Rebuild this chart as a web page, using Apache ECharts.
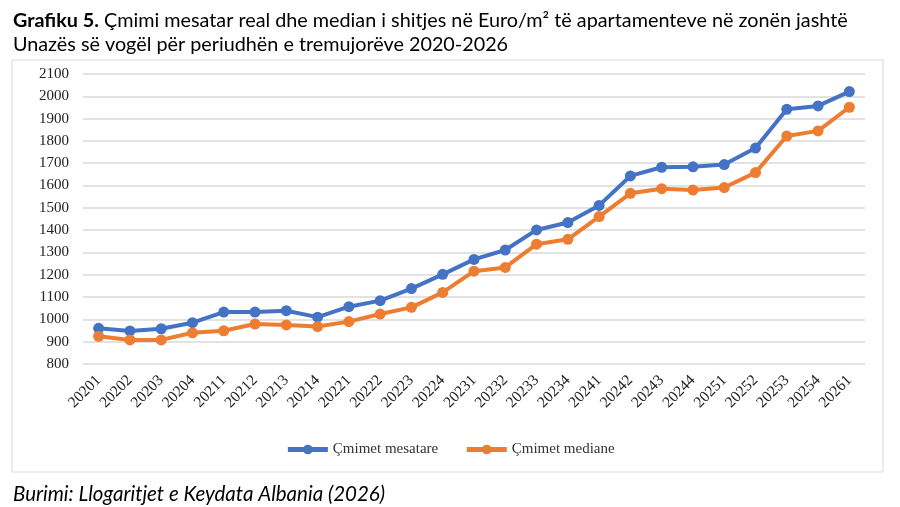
<!DOCTYPE html>
<html>
<head>
<meta charset="utf-8">
<script src="https://cdn.jsdelivr.net/npm/echarts@6/dist/echarts.min.js"></script>
<style>
  html, body { margin: 0; padding: 0; background: #fff; }
  #chart { width: 900px; height: 507px; }
</style>
</head>
<body>
<div id="chart"></div>
<script>
// tremujoret (year + quarter)
const quarters = [
  '20201', '20202', '20203', '20204',
  '20211', '20212', '20213', '20214',
  '20221', '20222', '20223', '20224',
  '20231', '20232', '20233', '20234',
  '20241', '20242', '20243', '20244',
  '20251', '20252', '20253', '20254',
  '20261'
]
const meanPrices = [
  960, 948, 958, 985,
  1033, 1033, 1039, 1010,
  1057, 1084, 1138, 1202,
  1269, 1311, 1401, 1434,
  1511, 1643, 1682, 1684,
  1694, 1768, 1942, 1957,
  2021
]
const medianPrices = [
  924, 908, 908, 940,
  949, 979, 975, 968,
  990, 1024, 1054, 1121,
  1216, 1233, 1337, 1359,
  1461, 1565, 1586, 1580,
  1591, 1658, 1822, 1845,
  1951
]
const seriesNames = ['Çmimet mesatare', 'Çmimet mediane']
const lineColors = ['#4472C4', '#ED7D31']

const chart = echarts.init(document.getElementById('chart'))

const serif = '"Liberation Serif", "Times New Roman", serif'
const sans = 'Lato, "Open Sans", sans-serif'

chart.setOption({
  animation: false,
  color: lineColors,
  title: [
    {
      text: '{b|Grafiku 5.} Çmimi mesatar real dhe median i shitjes në Euro/m² të apartamenteve në zonën jashtë\nUnazës së vogël për periudhën e tremujorëve 2020-2026',
      left: 8,
      top: 4,
      textStyle: {
        fontFamily: sans,
        fontSize: 19.8,
        fontWeight: 'normal',
        color: '#000',
        lineHeight: 24,
        rich: {
          b: { fontFamily: sans, fontSize: 19.8, fontWeight: 'bold', color: '#000' }
        }
      }
    },
    {
      text: 'Burimi: Llogaritjet e Keydata Albania (2026)',
      left: 8,
      top: 479,
      textStyle: {
        fontFamily: sans,
        fontSize: 20.5,
        fontStyle: 'italic',
        fontWeight: 'normal',
        color: '#000'
      }
    }
  ],
  graphic: [
    {
      type: 'rect',
      shape: { x: 12, y: 60, width: 871, height: 412 },
      style: { fill: 'none', stroke: '#d9d9d9', lineWidth: 1 },
      silent: true
    }
  ],
  legend: {
    data: seriesNames,
    top: 437,
    left: 'center',
    itemWidth: 40,
    itemHeight: 12,
    itemGap: 26,
    lineStyle: { width: 5 },
    textStyle: { fontFamily: serif, fontSize: 15, color: '#333' }
  },
  grid: {
    left: 83,
    right: 35,
    top: 74,
    bottom: 143
  },
  xAxis: {
    type: 'category',
    data: quarters,
    boundaryGap: true,
    axisLine: { show: false },
    axisTick: { show: false },
    axisLabel: {
      rotate: 45,
      interval: 0,
      margin: 14,
      fontFamily: serif,
      fontSize: 15.5,
      color: '#222'
    }
  },
  yAxis: {
    type: 'value',
    min: 800,
    max: 2100,
    interval: 100,
    axisLine: { show: false },
    axisTick: { show: false },
    splitLine: { lineStyle: { color: '#d9d9d9', width: 1.5 } },
    axisLabel: {
      margin: 14,
      fontFamily: serif,
      fontSize: 15,
      color: '#222',
      formatter: v => String(v)
    }
  },
  series: [
    {
      name: seriesNames[0],
      type: 'line',
      data: meanPrices,
      symbol: 'circle',
      symbolSize: 11,
      lineStyle: { width: 4, color: lineColors[0] },
      itemStyle: { color: lineColors[0] }
    },
    {
      name: seriesNames[1],
      type: 'line',
      data: medianPrices,
      symbol: 'circle',
      symbolSize: 11,
      lineStyle: { width: 4, color: lineColors[1] },
      itemStyle: { color: lineColors[1] }
    }
  ]
})
</script>
</body>
</html>
